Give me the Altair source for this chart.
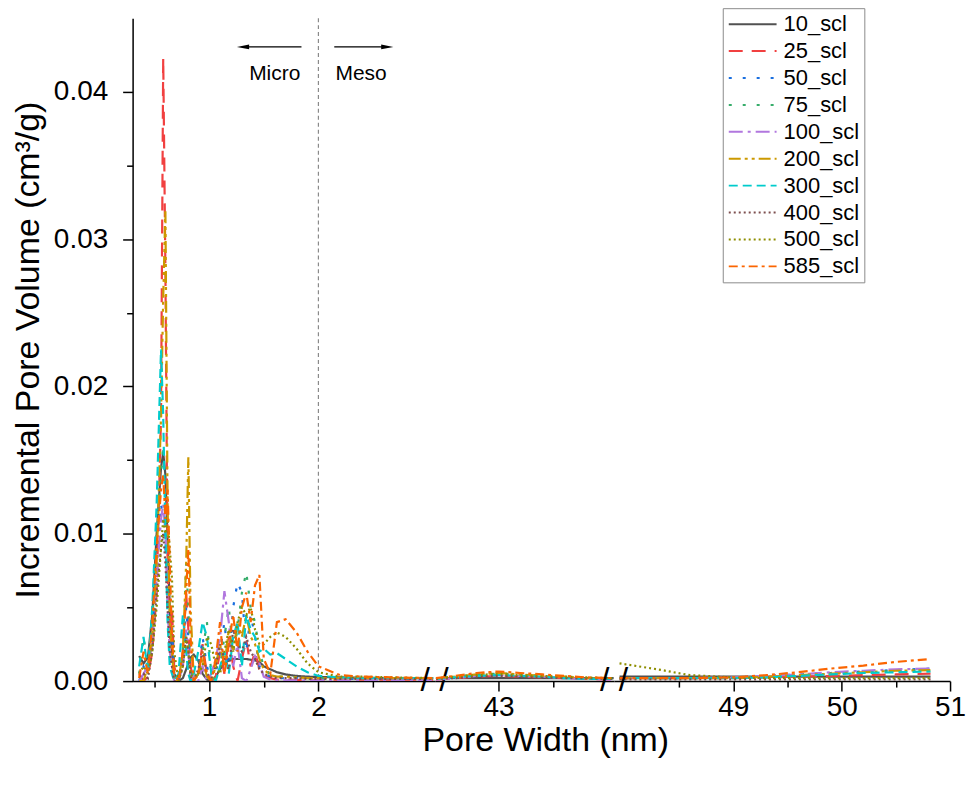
import altair as alt
import pandas as pd

# ---------------- series definitions ----------------
series = ["10_scl", "25_scl", "50_scl", "75_scl", "100_scl",
          "200_scl", "300_scl", "400_scl", "500_scl", "585_scl"]
colors = ["#515151", "#F14040", "#1A6FDF", "#37AD6B", "#B177DE",
          "#CC9900", "#00CBCC", "#7D4E4E", "#8E8E00", "#FB6501"]
dashes = [[1, 0], [14, 9], [3, 11], [3, 11], [14, 5, 3, 5],
          [12, 4, 3, 4, 3, 4], [9, 5], [2, 3], [2, 3], [9, 4, 3, 4]]

# ---------------- segment 1 : 0.3 - 3 nm (values in 1e-3 cm3/g) ----------------
x_micro = [0.36, 0.40, 0.44, 0.48, 0.52, 0.56, 0.58, 0.60, 0.62, 0.64, 0.66,
           0.68, 0.72, 0.76, 0.79, 0.81, 0.83, 0.86, 0.90, 0.94, 0.98, 1.02,
           1.06, 1.10, 1.14, 1.18, 1.22, 1.26, 1.30, 1.34, 1.38, 1.42, 1.46,
           1.50, 1.56, 1.62, 1.70, 1.80, 1.90, 2.00, 2.20, 2.40, 2.70, 3.05]

m10 = [1.7, 1.2, 1.6, 4.5, 10.0, 14.5, 15.5, 14.0, 9.5, 5.0, 2.0,
       0.5, 0.0, 0.2, 0.8, 1.2, 1.6, 1.8, 1.4, 0.5, 0.1, 0.0,
       0.3, 0.8, 1.2, 1.4, 1.5, 1.5, 1.5, 1.5, 1.45, 1.4, 1.3,
       1.0, 0.8, 0.6, 0.45, 0.35, 0.3, 0.28, 0.25, 0.22, 0.2, 0.2]
m25 = [0.5, 0.0, 0.3, 2.0, 6.0, 18.0, 42.3, 28.0, 8.0, 2.5, 5.0,
       1.0, 0.0, 2.0, 6.0, 3.5, 1.0, 0.0, 0.5, 2.5, 0.5, 0.0,
       0.3, 2.0, 0.5, 3.0, 1.0, 0.0, 1.5, 2.8, 1.0, 2.0, 0.8,
       0.4, 0.2, 0.1, 0.1, 0.08, 0.08, 0.1, 0.1, 0.1, 0.1, 0.1]
m50 = [0.0, 1.0, 0.5, 3.0, 8.0, 12.0, 11.0, 9.0, 6.0, 2.0, 4.0,
       0.5, 0.0, 1.5, 5.0, 3.0, 0.5, 0.0, 0.5, 3.0, 1.0, 0.0,
       0.5, 2.0, 4.0, 1.0, 5.0, 6.7, 6.0, 2.0, 4.5, 3.0, 1.0,
       0.5, 0.3, 0.2, 0.2, 0.2, 0.15, 0.15, 0.15, 0.15, 0.15, 0.15]
m75 = [0.5, 3.0, 1.0, 4.0, 10.0, 14.0, 16.0, 12.0, 7.0, 3.0, 1.0,
       0.3, 0.0, 2.0, 8.0, 5.0, 1.0, 0.0, 1.0, 2.0, 4.0, 0.5,
       0.0, 1.0, 3.0, 5.0, 2.0, 3.5, 6.0, 7.4, 5.0, 4.0, 2.0,
       1.0, 0.4, 0.3, 0.3, 0.25, 0.2, 0.2, 0.2, 0.2, 0.2, 0.2]
m100 = [0.0, 0.5, 1.0, 2.5, 7.0, 11.0, 12.0, 10.0, 5.0, 2.0, 1.0,
        0.0, 0.0, 1.0, 3.5, 2.0, 0.0, 0.3, 0.0, 1.0, 0.0, 0.5,
        1.5, 3.0, 6.1, 4.0, 1.0, 2.5, 0.2, 0.0, 0.8, 1.7, 1.2,
        0.3, 0.1, 0.05, 0.05, 0.05, 0.05, 0.05, 0.05, 0.05, 0.05, 0.05]
m200 = [0.0, 0.0, 1.0, 3.0, 8.0, 18.0, 26.0, 32.0, 12.0, 4.0, 2.0,
        0.0, 0.0, 2.0, 8.0, 15.2, 5.0, 0.0, 0.5, 1.5, 0.3, 0.0,
        1.0, 2.5, 1.0, 3.5, 2.0, 4.0, 3.0, 4.5, 3.0, 2.5, 1.5,
        0.8, 0.4, 0.3, 0.3, 0.25, 0.2, 0.2, 0.2, 0.2, 0.2, 0.2]
m300 = [1.0, 3.0, 0.5, 5.0, 12.0, 22.5, 18.0, 10.0, 4.0, 1.0, 0.5,
        0.0, 0.5, 4.5, 2.0, 0.5, 0.0, 0.5, 2.0, 4.0, 3.0, 0.5,
        0.0, 1.0, 2.0, 0.5, 3.0, 4.0, 1.0, 4.5, 3.5, 3.0, 2.0,
        2.2, 1.8, 1.9, 1.5, 1.0, 0.6, 0.35, 0.25, 0.2, 0.2, 0.2]
m400 = [0.3, 0.5, 0.2, 2.0, 6.0, 9.0, 10.0, 8.0, 5.0, 2.0, 1.0,
        0.0, 0.0, 1.0, 3.0, 2.0, 0.3, 0.0, 0.8, 2.0, 0.5, 0.2,
        1.0, 2.5, 1.5, 0.8, 3.5, 2.5, 2.0, 3.0, 2.0, 1.5, 0.8,
        0.5, 0.3, 0.2, 0.2, 0.2, 0.15, 0.15, 0.15, 0.15, 0.15, 0.15]
m500 = [0.5, 1.0, 0.5, 2.0, 5.0, 9.0, 11.0, 10.0, 11.0, 9.0, 7.0,
        2.0, 0.0, 1.0, 3.0, 2.0, 0.5, 0.0, 0.5, 1.0, 3.0, 2.5,
        1.0, 0.5, 2.0, 3.5, 2.0, 4.0, 5.0, 4.5, 5.0, 3.5, 2.5,
        2.5, 3.0, 3.3, 3.0, 2.2, 1.2, 0.6, 0.3, 0.3, 0.25, 0.2]
m585 = [0.2, 2.0, 0.5, 4.0, 9.0, 13.0, 14.0, 11.0, 13.0, 8.0, 3.0,
        0.5, 0.0, 2.0, 6.0, 9.0, 3.0, 0.0, 0.5, 2.0, 0.5, 0.0,
        1.5, 4.0, 0.5, 2.5, 4.5, 2.0, 5.0, 6.0, 4.0, 6.5, 7.2,
        1.5, 0.5, 4.0, 4.2, 3.3, 2.0, 1.0, 0.4, 0.3, 0.25, 0.2]

# ---------------- segment 2 : around 43 nm ----------------
x_mid = [42.43, 42.6, 42.8, 43.0, 43.2, 43.4, 43.6, 43.8, 44.05]
n10 = [0.2, 0.2, 0.2, 0.2, 0.2, 0.2, 0.2, 0.2, 0.2]
n25 = [0.1, 0.2, 0.3, 0.35, 0.3, 0.25, 0.2, 0.15, 0.1]
n50 = [0.15, 0.25, 0.4, 0.45, 0.4, 0.3, 0.25, 0.2, 0.15]
n75 = [0.15, 0.3, 0.45, 0.5, 0.45, 0.35, 0.25, 0.2, 0.15]
n100 = [0.1, 0.2, 0.35, 0.4, 0.35, 0.3, 0.2, 0.15, 0.1]
n200 = [0.15, 0.3, 0.45, 0.55, 0.45, 0.35, 0.3, 0.2, 0.15]
n300 = [0.15, 0.25, 0.35, 0.4, 0.35, 0.3, 0.2, 0.15, 0.15]
n400 = [0.15, 0.2, 0.3, 0.35, 0.3, 0.25, 0.2, 0.2, 0.15]
n500 = [0.2, 0.3, 0.4, 0.5, 0.4, 0.35, 0.3, 0.25, 0.2]
n585 = [0.2, 0.35, 0.55, 0.65, 0.55, 0.45, 0.35, 0.25, 0.2]

# ---------------- segment 3 : 48 - 51 nm ----------------
x_wide = [47.95, 48.3, 48.6, 49.0, 49.3, 49.6, 49.9, 50.2, 50.5, 50.82]
w10 = [0.3, 0.3, 0.3, 0.3, 0.3, 0.3, 0.3, 0.3, 0.3, 0.3]
w25 = [0.2, 0.2, 0.2, 0.2, 0.25, 0.3, 0.35, 0.4, 0.45, 0.5]
w50 = [0.2, 0.2, 0.2, 0.25, 0.35, 0.45, 0.55, 0.65, 0.75, 0.85]
w75 = [0.2, 0.2, 0.2, 0.25, 0.3, 0.4, 0.5, 0.6, 0.7, 0.75]
w100 = [0.2, 0.2, 0.2, 0.25, 0.35, 0.45, 0.6, 0.7, 0.8, 0.85]
w200 = [0.2, 0.2, 0.2, 0.2, 0.3, 0.4, 0.5, 0.6, 0.7, 0.75]
w300 = [0.2, 0.2, 0.2, 0.2, 0.25, 0.35, 0.45, 0.55, 0.6, 0.65]
w400 = [0.12, 0.12, 0.12, 0.12, 0.12, 0.12, 0.12, 0.12, 0.12, 0.12]
w500 = [1.2, 0.8, 0.4, 0.25, 0.2, 0.2, 0.2, 0.2, 0.2, 0.2]
w585 = [0.2, 0.2, 0.2, 0.25, 0.4, 0.6, 0.85, 1.05, 1.3, 1.5]

micro_vals = [m10, m25, m50, m75, m100, m200, m300, m400, m500, m585]
mid_vals = [n10, n25, n50, n75, n100, n200, n300, n400, n500, n585]
wide_vals = [w10, w25, w50, w75, w100, w200, w300, w400, w500, w585]

# axis segments (nm)
seg1 = [0.3, 3.0636]
seg2 = [42.418, 44.054]
seg3 = [47.9, 51.0]
y_max = 0.045
FONT = "Liberation Sans"


def frame(xs, vals):
    rows = []
    for name, ys in zip(series, vals):
        for xv, yv in zip(xs, ys):
            rows.append({"x": xv, "y": yv / 1000.0, "series": name})
    return pd.DataFrame(rows)


df1 = frame(x_micro, micro_vals)
df2 = frame(x_mid, mid_vals)
df3 = frame(x_wide, wide_vals)

legend = alt.Legend(
    title=None, orient="none", legendX=592, legendY=-10,
    symbolType="stroke", symbolSize=2300, symbolStrokeWidth=2,
    labelFontSize=22, labelFont=FONT, labelColor="black",
    strokeColor="#8c8c8c", fillColor="white", padding=5,
    clipHeight=22, rowPadding=5, labelOffset=6, labelLimit=300,
)

y_ticks = [0.0, 0.005, 0.01, 0.015, 0.02, 0.025, 0.03, 0.035, 0.04]
major_y = "abs(datum.value*100 - round(datum.value*100)) < 0.001"
major_x = "abs(datum.value - round(datum.value)) < 0.001"


def x_axis(ticks, title=None, title_x=None):
    kw = dict(
        values=ticks,
        labelExpr=f"{major_x} ? format(datum.value, 'd') : ''",
        tickSize={"condition": {"test": major_x, "value": 10}, "value": 6},
        labelFontSize=28, labelPadding=3, labelFlush=False, labelOverlap=False,
        grid=False,
    )
    if title is not None:
        kw.update(title=title, titleFontSize=34, titleX=title_x, titlePadding=2)
    else:
        kw.update(title=None)
    return alt.Axis(**kw)


y_axis = alt.Axis(
    values=y_ticks,
    labelExpr=f"{major_y} ? format(datum.value, '.2f') : ''",
    tickSize={"condition": {"test": major_y, "value": 10}, "value": 6},
    labelFontSize=28, labelPadding=15, title="Incremental Pore Volume (cm³/g)",
    titleFontSize=34, titlePadding=8, grid=False,
)


def lines(df, dom, axis, show_y):
    return alt.Chart(df).mark_line(strokeWidth=2.2, clip=True).encode(
        x=alt.X("x:Q", scale=alt.Scale(domain=dom, nice=False, zero=False), axis=axis),
        y=alt.Y("y:Q", scale=alt.Scale(domain=[0, y_max], nice=False),
                axis=y_axis if show_y else None),
        color=alt.Color("series:N", scale=alt.Scale(domain=series, range=colors),
                        legend=legend),
        strokeDash=alt.StrokeDash("series:N", scale=alt.Scale(domain=series, range=dashes),
                                  legend=legend),
    )


def brk(xv):
    return alt.Chart(pd.DataFrame({"x": [xv], "y": [0.0]})).mark_text(
        text="/ /", fontSize=34, font=FONT, color="black", baseline="middle"
    ).encode(x="x:Q", y="y:Q")


# annotations (micro / meso)
arrow_left = pd.DataFrame({"x": [1.845], "x2": [1.33], "y": [0.04305]})
arrow_right = pd.DataFrame({"x": [2.145], "x2": [2.61], "y": [0.04305]})
head_left = pd.DataFrame({"x": [1.31], "y": [0.04305]})
head_right = pd.DataFrame({"x": [2.63], "y": [0.04305]})
labels = pd.DataFrame({"x": [1.6, 2.39], "y": [0.0412, 0.0412], "t": ["Micro", "Meso"]})

divider = alt.Chart(pd.DataFrame({"x": [2.0]})).mark_rule(
    color="#8a8a8a", strokeDash=[4, 3], strokeWidth=1.2).encode(x="x:Q")
arr1 = alt.Chart(arrow_left).mark_rule(color="black", strokeWidth=1.2).encode(x="x:Q", x2="x2", y="y:Q")
arr2 = alt.Chart(arrow_right).mark_rule(color="black", strokeWidth=1.2).encode(x="x:Q", x2="x2", y="y:Q")
hd1 = alt.Chart(head_left).mark_point(shape="M -1 0 L 1 -0.4 L 1 0.4 Z", filled=True,
                                      color="black", size=150, opacity=1).encode(x="x:Q", y="y:Q")
hd2 = alt.Chart(head_right).mark_point(shape="M 1 0 L -1 -0.4 L -1 0.4 Z", filled=True,
                                       color="black", size=150, opacity=1).encode(x="x:Q", y="y:Q")
txt = alt.Chart(labels).mark_text(fontSize=21, font=FONT, color="black", baseline="middle").encode(
    x="x:Q", y="y:Q", text="t:N")

p1 = alt.layer(
    divider, lines(df1, seg1, x_axis([0.5, 1, 1.5, 2, 2.5]), True),
    arr1, arr2, hd1, hd2, txt, brk(seg1[1])
).properties(width=303, height=665)

p2 = alt.layer(
    lines(df2, seg2, x_axis([43, 43.5], "Pore Width (nm)", 111), False)
).properties(width=180, height=665)

p3 = alt.layer(
    lines(df3, seg3, x_axis([48.5, 49, 49.5, 50, 50.5, 51]), False),
    brk(seg3[0])
).properties(width=337, height=665)

chart = alt.hconcat(p1, p2, p3, spacing=0, bounds="flush").resolve_scale(
    x="independent"
).resolve_axis(x="independent", y="independent").properties(
    padding={"left": 3, "top": -2, "right": 0, "bottom": 5}
).configure_view(stroke=None).configure_axis(
    labelFont=FONT, titleFont=FONT, titleFontWeight="normal",
    labelColor="black", titleColor="black", domainColor="black",
    tickColor="black", domainWidth=1.5, tickWidth=1.5,
)

chart.save("out.html", embed_options={"renderer": "svg", "actions": False})
